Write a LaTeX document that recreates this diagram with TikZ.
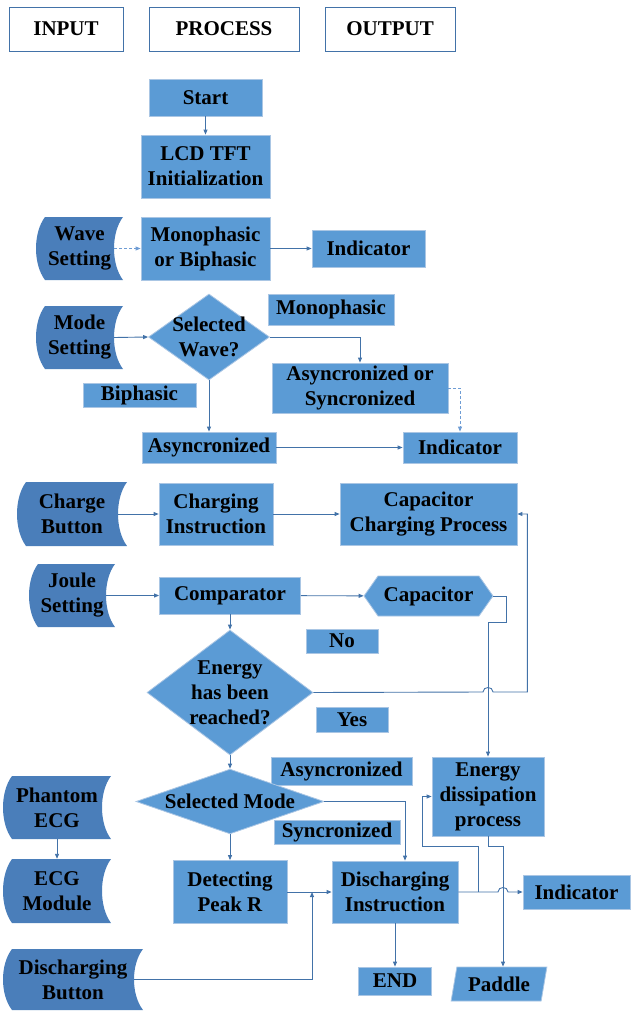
\documentclass[tikz,border=0pt]{standalone}
\usepackage{fontspec}
\setmainfont{Liberation Serif}
\usetikzlibrary{arrows.meta,shapes.geometric,shapes.symbols}

\definecolor{procfill}{RGB}{91,155,213}
\definecolor{procline}{RGB}{170,198,228}
\definecolor{infill}{RGB}{74,126,186}
\definecolor{wire}{RGB}{66,114,168}
\definecolor{dashwire}{RGB}{110,156,212}

% stored data shape: name, left, top, right, bottom, text
\newcommand{\inbox}[6]{%
  \fill[infill] ({#2+9},#3) -- (#4,#3)
    .. controls ({#4-12},{#3+(#5-#3)/4}) and ({#4-12},{#5-(#5-#3)/4}) .. (#4,#5)
    -- ({#2+9},#5)
    .. controls ({#2-3},{#5-(#5-#3)/4}) and ({#2-3},{#3+(#5-#3)/4}) .. cycle;
  \node[minimum width={#4-#2}, minimum height={#5-#3}] (#1) at ({(#2+#4)/2},{(#3+#5)/2}) {#6};
  \coordinate (#1-out) at ({#4-9},{(#3+#5)/2});
}

\begin{document}
\begin{tikzpicture}
          [x=1pt,y=-1pt,every node/.style={inner sep=0pt, align=center, font=\bfseries\fontsize{21}{25}\selectfont},
           head/.style={draw=wire, line width=0.8pt, fill=white},
           proc/.style={draw=procline, line width=0.8pt, fill=procfill},
           decide/.style={diamond, draw=procline, line width=0.8pt, fill=procfill, inner sep=-20pt},
           arr/.style={draw=wire, line width=0.9pt, -{Triangle[length=5pt,width=4pt]}},
           dasharr/.style={draw=dashwire, line width=0.9pt, dash pattern=on 3pt off 2pt, -{Triangle[length=5pt,width=4pt]}}]
        \useasboundingbox (0,0) rectangle (630,1011);

        % column heads
        \node[head, minimum width=114, minimum height=44] (input) at (66,29) {INPUT};
        \node[head, minimum width=150, minimum height=44] (process) at (224,29) {PROCESS};
        \node[head, minimum width=130, minimum height=44] (output) at (390,29) {OUTPUT};

        % process boxes
        \node[proc, minimum width=113, minimum height=37] (start) at (205.5,97.5) {Start};
        \node[proc, minimum width=129, minimum height=63] (lcd) at (205.5,166.5) {LCD TFT\\Initialization};
        \node[proc, minimum width=129, minimum height=63] (mono) at (205.5,248.5) {Monophasic\\or Biphasic};
        \node[proc, minimum width=113, minimum height=37] (ind1) at (368.5,248.5) {Indicator};
        \node[decide, minimum width=121, minimum height=86] (selwave) at (209,337) {Selected\\Wave?};
        \node[proc, minimum width=126, minimum height=31] (lmono) at (331,309.5) {Monophasic};
        \node[proc, minimum width=113, minimum height=24] (lbi) at (139.5,395) {Biphasic};
        \node[proc, minimum width=176, minimum height=50] (asor) at (360,388) {Asyncronized or\\Syncronized};
        \node[proc, minimum width=114, minimum height=31] (ind2) at (460,447.5) {Indicator};
        \node[proc, minimum width=134, minimum height=31] (async) at (209,447.5) {Asyncronized};
        \node[proc, minimum width=114, minimum height=62] (chinst) at (216,514) {Charging\\Instruction};
        \node[proc, minimum width=177, minimum height=62] (ccp) at (428.5,514) {Capacitor\\Charging Process};
        \node[proc, minimum width=141, minimum height=37] (comp) at (230,595.5) {Comparator};
        \node[proc, signal, signal to=west and east, signal pointer angle=110,
              minimum width=129, minimum height=40] (cap) at (428.5,596) {Capacitor};
        \node[proc, minimum width=72, minimum height=24] (lno) at (342,641) {No};
        \node[decide, minimum width=166, minimum height=125] (energy) at (230,692.5) {Energy\\has been\\reached?};
        \node[proc, minimum width=72, minimum height=25] (lyes) at (352,719.5) {Yes};
        \node[proc, minimum width=141, minimum height=28] (lasync) at (341.5,771) {Asyncronized};
        \node[decide, minimum width=188, minimum height=51] (selmode) at (230,801.5) {Selected Mode};
        \node[proc, minimum width=126, minimum height=24] (lsync) at (337,832) {Syncronized};
        \node[proc, minimum width=114, minimum height=63] (detect) at (230,892) {Detecting\\Peak R};
        \node[proc, minimum width=126, minimum height=62] (disch) at (395,892) {Discharging\\Instruction};
        \node[proc, minimum width=112, minimum height=79] (edis) at (488,796.5) {Energy\\dissipation\\process};
        \node[proc, minimum width=107, minimum height=34] (ind3) at (576.5,892) {Indicator};
        \node[proc, trapezium, trapezium left angle=74, trapezium right angle=106, trapezium stretches=true,
              minimum width=96, minimum height=34] (pad) at (499,984) {Paddle};
        \node[proc, minimum width=73, minimum height=28] (endn) at (395,981) {END};

        % inputs
        \inbox{wave}{36}{217}{123}{280}{Wave\\Setting}
        \inbox{mode}{36}{306}{123}{369}{Mode\\Setting}
        \inbox{charge}{17}{482}{127}{546}{Charge\\Button}
        \inbox{joule}{29}{564}{115}{627}{Joule\\Setting}
        \inbox{phantom}{3}{776}{111}{839}{Phantom\\ECG}
        \inbox{ecg}{3}{859}{111}{923}{ECG\\Module}
        \inbox{dbtn}{3}{949}{143}{1010}{Discharging\\Button}

        \coordinate (djoin) at (312,892);
        \coordinate (split) at (478,892);

        \foreach \from/\to in {start/lcd, mono/ind1, selwave/async, async/ind2, chinst/ccp, comp/cap,
                               comp/energy, energy/selmode, selmode/detect, detect/disch, disch/endn, phantom/ecg}
          \draw[arr] (\from) -- (\to);
        \foreach \from/\to in {mode-out/selwave, charge-out/chinst, joule-out/comp}
          \draw[arr] (\from) -- (\to.west);

        \draw[dasharr] (wave-out) -- (mono.west);
        \draw[dasharr] (asor.east) -| (ind2.north);
        \draw[arr] (selwave.east) -| (asor.north);
        \draw[arr] (cap.east) -- ++(13,0) -- ++(0,26) -| (edis.north);
        \draw[arr] (energy.east) -- (483,692) .. controls (483,686) and (493,686) .. (493,692)
              -| ([xshift=10pt]ccp.east) -- (ccp.east);
        \draw[arr] (selmode.east) -| ([xshift=10pt]disch.north);
        \draw[arr] (dbtn-out) -| (djoin);
        \draw[arr] (disch.east) -- (498,892) .. controls (498,886) and (508,886) .. (508,892) -- (ind3.west);
        \draw[arr] (split) -- ++(0,-46) -| ++(-56,0) |- (edis.west);
        \draw[arr] (edis.south) -- ++(0,10) -| ([xshift=4pt]pad.north);
      \end{tikzpicture}
\end{document}
